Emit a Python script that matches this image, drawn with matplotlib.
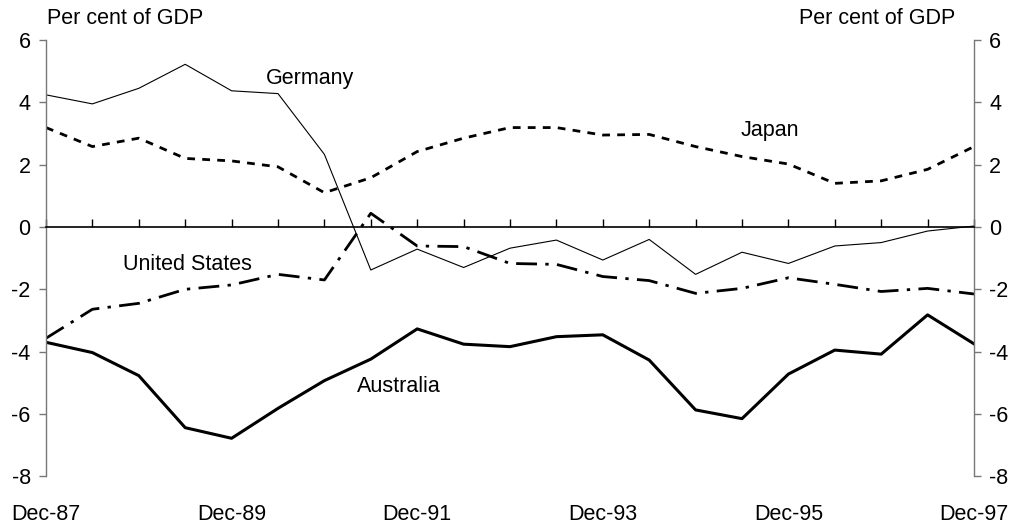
import matplotlib
matplotlib.use("Agg")
import matplotlib.pyplot as plt
import numpy as np

plt.rcParams['font.family'] = ['Liberation Sans', 'DejaVu Sans']
plt.rcParams['axes.unicode_minus'] = False

# half-yearly observations, Dec-87 .. Dec-97
tick_labels = ["Dec-87", "Dec-89", "Dec-91", "Dec-93", "Dec-95", "Dec-97"]

germany = [4.24, 3.95, 4.45, 5.22, 4.37, 4.28, 2.33, -1.38, -0.71, -1.30, -0.68,
           -0.42, -1.06, -0.40, -1.52, -0.81, -1.17, -0.61, -0.50, -0.13, 0.03]
japan = [3.19, 2.58, 2.85, 2.20, 2.12, 1.93, 1.10, 1.58, 2.42, 2.85, 3.19,
         3.19, 2.95, 2.97, 2.58, 2.26, 2.02, 1.40, 1.48, 1.85, 2.58]
united_states = [-3.57, -2.64, -2.45, -2.00, -1.86, -1.52, -1.70, 0.44, -0.61, -0.63, -1.17,
                 -1.20, -1.59, -1.72, -2.13, -1.97, -1.63, -1.84, -2.07, -1.97, -2.15]
australia = [-3.70, -4.03, -4.77, -6.44, -6.78, -5.82, -4.93, -4.24, -3.27, -3.76, -3.84,
             -3.52, -3.46, -4.27, -5.87, -6.15, -4.72, -3.95, -4.08, -2.82, -3.75]

x = np.arange(len(germany))

fig = plt.figure(figsize=(10.14, 5.25), dpi=100)
ax = fig.add_axes([46 / 1014, 1 - 476.3 / 525, 928 / 1014, 436.3 / 525])

ax.plot(x, germany, color="black", lw=0.8)
ax.plot(x, japan, color="black", lw=2, linestyle=(0, (2.8, 2.6)))
ax.plot(x, united_states, color="black", lw=2, linestyle=(0, (7.5, 3, 1.2, 3)))
ax.plot(x, australia, color="black", lw=2.2)

ax.set_xlim(0, 20)
ax.set_ylim(-8, 6)

# zero line with small upward ticks at every half year
ax.spines["top"].set_visible(False)
ax.spines["bottom"].set_position(("data", 0))
ax.spines["bottom"].set_color("black")
ax.spines["bottom"].set_linewidth(1.2)
ax.set_xticks(x)
ax.tick_params(axis="x", direction="in", length=6, width=1, color="black",
               labelbottom=False)

for s in ("left", "right"):
    ax.spines[s].set_color("#777777")
    ax.spines[s].set_linewidth(1)
ax.set_yticks(np.arange(-8, 7, 2))
ax.tick_params(axis="y", direction="out", length=5, width=1, color="#777777",
               labelsize=15.5, pad=6, left=True, right=True,
               labelleft=True, labelright=True)

# date labels under the plot area
sec = ax.secondary_xaxis(0.0)
sec.set_xticks(np.arange(0, 21, 4), tick_labels)
sec.tick_params(length=0, pad=20, labelsize=15.5)
sec.spines["bottom"].set_visible(False)

fig.text(47 / 1014, 1 - 18 / 525, "Per cent of GDP", fontsize=15.5, ha="left", va="center")
fig.text(955 / 1014, 1 - 18 / 525, "Per cent of GDP", fontsize=15.5, ha="right", va="center")

ax.text(5.69, 4.78, "Germany", fontsize=15.5, ha="center", va="center")
ax.text(15.6, 3.09, "Japan", fontsize=15.5, ha="center", va="center")
ax.text(3.04, -1.19, "United States", fontsize=15.5, ha="center", va="center")
ax.text(7.61, -5.12, "Australia", fontsize=15.5, ha="center", va="center")

fig.savefig("out.png", dpi=100)
